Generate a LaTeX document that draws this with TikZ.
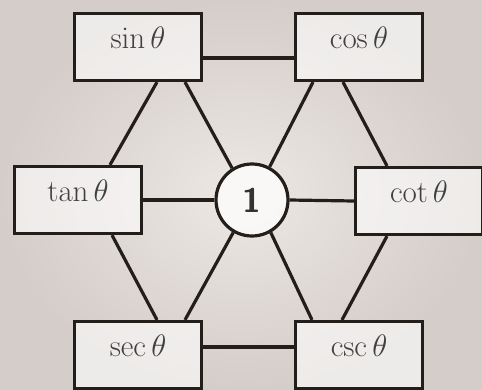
\RequirePackage{fix-cm}
\documentclass[tikz,border=0pt]{standalone}
\usepackage{amsmath}
\usepackage{xcolor}
\usetikzlibrary{positioning,calc}
\definecolor{ink}{HTML}{241E1A}
\definecolor{paper}{HTML}{D4CDC9}
\definecolor{paperlight}{HTML}{EDE8E4}
\tikzset{
  fn/.style={draw=ink, line width=3.2pt, fill=white, fill opacity=0.6, text opacity=1, minimum width=127pt, minimum height=67pt, inner sep=0pt,
    text height=22pt, text depth=20pt, font=\fontsize{31}{36}\selectfont, text=black!75},
  unit/.style={circle, draw=ink, line width=3.2pt, fill=white, fill opacity=0.75, text opacity=1, minimum size=72pt, inner sep=0pt,
    font=\sffamily\bfseries\fontsize{34}{38}\selectfont, text=black!80},
  link/.style={draw=ink, line width=3.2pt}}

\begin{document}
\begin{tikzpicture}[x=1pt, y=-1pt]
  % backdrop
  \useasboundingbox (0,0) rectangle (482,389);
  \shade[inner color=paperlight, outer color=paper] (0,0) rectangle (482,389);
  % functions
  \node[fn] (sin) at (138,47) {$\sin\theta$};
  \node[fn] (cos) at (359,47) {$\cos\theta$};
  \node[fn] (tan) at (78,200) {$\tan\theta$};
  \node[fn] (cot) at (419,201) {$\cot\theta$};
  \node[fn] (sec) at (138,355) {$\sec\theta$};
  \node[fn] (csc) at (359,355) {$\csc\theta$};
  \node[unit] (one) at (252,200) {1};
  % horizontals
  \draw[link] ([yshift=-11pt]sin.east) -- ([yshift=-11pt]cos.west);
  \draw[link] (tan.east) -- (one.west);
  \draw[link] (one.east) -- (cot.west);
  \draw[link] ([yshift=8pt]sec.east) -- ([yshift=8pt]csc.west);
  % diagonals
  \draw[link] ([xshift=19pt]sin.south) -- ([xshift=32pt]tan.north);
  \draw[link] ([xshift=47pt]sin.south) -- (one.122);
  \draw[link] ([xshift=-46pt]cos.south) -- (one.62);
  \draw[link] ([xshift=-16pt]cos.south) -- ([xshift=-32pt]cot.north);
  \draw[link] ([xshift=34pt]tan.south) -- ([xshift=19pt]sec.north);
  \draw[link] (one.240) -- ([xshift=47pt]sec.north);
  \draw[link] (one.300) -- ([xshift=-47pt]csc.north);
  \draw[link] ([xshift=-32pt]cot.south) -- ([xshift=-17pt]csc.north);
\end{tikzpicture}
\end{document}
